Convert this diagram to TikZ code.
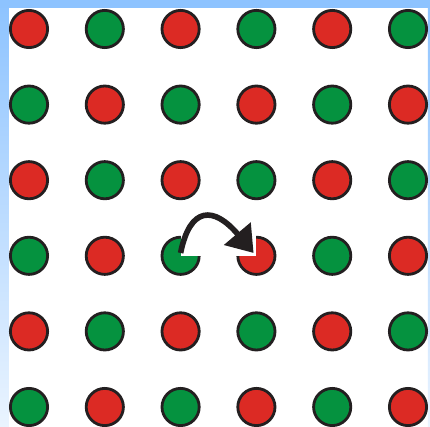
\documentclass[tikz,border=0pt]{standalone}
\usepackage{xcolor}
\usepackage{tikz}
\usetikzlibrary{arrows.meta}
\definecolor{dotred}{HTML}{DC2A24}
\definecolor{dotgreen}{HTML}{05923F}
\definecolor{rim}{HTML}{231F20}
\definecolor{frametop}{HTML}{8DC3FF}
\definecolor{framebot}{HTML}{EAF4FF}
\tikzset{
  dot/.style={circle, draw=rim, line width=2pt, minimum size=0.93cm, inner sep=0pt},
  hop/.style={rim, line width=4pt, -{Triangle[length=18pt, width=24pt]}}
}

\begin{document}
\begin{tikzpicture}[x=0.025cm, y=-0.025cm]
  \useasboundingbox (0,0) rectangle (430,427);
  \fill[white] (0,0) rectangle (430,427);
  % frame
  \shade[top color=frametop, bottom color=framebot] (0,0) rectangle (9,427);
  \shade[top color=frametop, bottom color=framebot] (428,0) rectangle (430,427);
  \fill[frametop] (0,0) rectangle (430,8);
  % lattice
  \foreach \r in {0,...,5}{
    \foreach \c in {0,...,5}{
      \pgfmathtruncatemacro{\k}{\r+\c}
      \ifodd\k \def\col{dotgreen}\else\def\col{dotred}\fi
      \node[dot, fill=\col] (d\r\c) at ({29+75.8*\c},{29+75.6*\r}) {};
    }
  }
  % cut quarters
  \fill[white] (d32.center) rectangle ++(23,-23);
  \fill[white] (d33.center) rectangle ++(-23,-23);
  \coordinate (land) at ([xshift=-2pt, yshift=2pt]d33.center);
  \draw[hop] ([yshift=2pt]d32.center) .. controls (190,206) and (214,206) .. (land);
\end{tikzpicture}
\end{document}
